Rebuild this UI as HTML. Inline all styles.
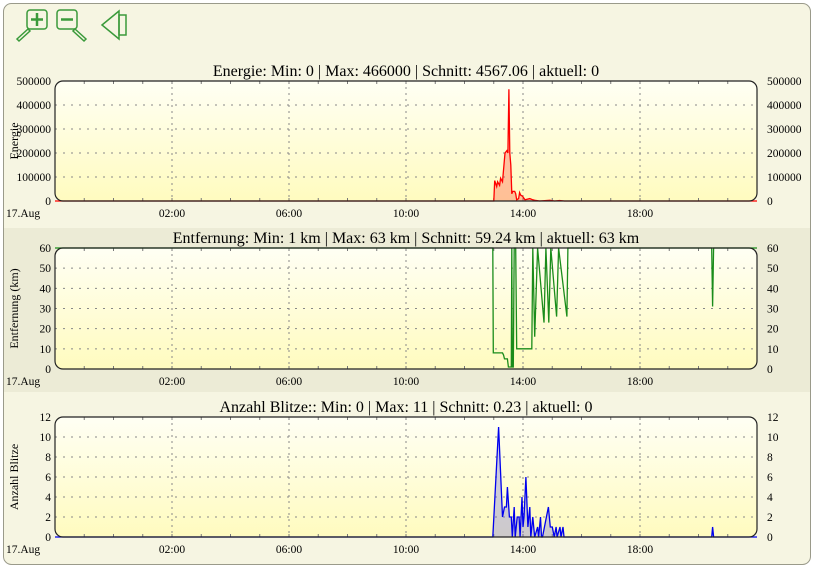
<!DOCTYPE html>
<html><head><meta charset="utf-8"><style>
body{margin:0;width:814px;height:568px;background:#fff;font-family:"Liberation Serif",serif;}
svg text{font-family:"Liberation Serif",serif;}
</style></head><body>
<svg id="s" width="814" height="568" xmlns="http://www.w3.org/2000/svg">
<defs>
<linearGradient id="bg" x1="0" y1="0" x2="0" y2="1"><stop offset="0" stop-color="#fffff4"/><stop offset="1" stop-color="#fffbbf"/></linearGradient>
</defs>
<rect x="3.5" y="3.5" width="807" height="561" rx="8" fill="#f6f5e2" stroke="#9a9a8a"/>
<rect x="4" y="228" width="806" height="164" fill="#ecebd6"/>
<g fill="none" stroke="#3a9a3a" stroke-width="1.5">
<rect x="27" y="10" width="20" height="19" rx="3"/><path d="M37 13v13M31 19.5h12" stroke-width="2.5"/><path d="M28 29l-11 10 2 2 11-10z"/></g>
<g fill="none" stroke="#3a9a3a" stroke-width="1.5">
<rect x="57" y="10" width="20" height="19" rx="3"/><path d="M61 19.5h12" stroke-width="2.5"/><path d="M75 29l11 10-2 2-11-10z"/></g>
<g fill="none" stroke="#3a9a3a" stroke-width="1.5">
<path d="M102 25l17-14v28z"/><rect x="119" y="15" width="7" height="20"/></g>
<g id="charts"></g>
</svg>
<script>
const energyTimes=[-120,780,782,786,788,792,794,798,803,807,809,811,813,815,817,819,823,825,827,831,833,835,839,844,854,860,864,874,895,905,915,925,1320];
const energyValues=[0,0,85000,60000,80000,65000,95000,80000,200000,210000,200000,466000,200000,150000,30000,40000,40000,30000,5000,10000,35000,25000,20000,5000,10000,5000,3000,0,3000,0,2000,0,0];
const distTimes=[-120,778,779,798,800,802,808,810,816,817,818,820,822,825,827,858,860,864,870,883,887,893,897,909,913,930,932,1227,1229,1231,1320];
const distValues=[63,63,8,8,7,5,5,1,1,63,1,1,63,63,10,10,63,16,63,23,63,23,63,26,63,26,63,63,31,63,63];
const countTimes=[-120,778,790,798,802,806,808,812,816,818,822,824,828,832,834,838,840,842,846,850,854,856,860,862,864,870,872,876,878,880,888,892,896,900,904,908,910,916,918,922,924,1227,1229,1231,1320];
const countValues=[0,0,11,2,3,3,5,2,2,0,3,0,2,2,0,4,1,2,6,1,3,0,2,1,0,1,0,2,0,0,2,3,1,1,0,1,0,1,0,1,0,0,1,0,0];
const xTickMinutes=[120,360,600,840,1080];
const xTickLabels=["02:00","06:00","10:00","14:00","18:00"];
const energyTicks=[0,100000,200000,300000,400000,500000];
const distTicks=[0,10,20,30,40,50,60];
const countTicks=[0,2,4,6,8,10,12];

const NS="http://www.w3.org/2000/svg";
const X0=55,X1=757;
function xs(m){return 113.5+m/60*29.25;}
function el(tag,attrs,parent,txt){const e=document.createElementNS(NS,tag);for(const k in attrs)e.setAttribute(k,attrs[k]);if(txt!==undefined)e.textContent=txt;parent.appendChild(e);return e;}
const root=document.getElementById('charts');
function chart(name,top,bottom,max,ticks,times,vals,title,ytitle,color,fill){
  const g=el('g',{},root);
  
  
  const ys=v=>bottom-Math.min(v,max)/max*(bottom-top);
  const bgr=el('rect',{x:X0,y:top,width:X1-X0,height:bottom-top,rx:8,fill:'url(#bg)'},g);
  
  
  const t=el('text',{x:406,y:top-5,'text-anchor':'middle','font-size':16},g,title);
  
  
  const yt=el('text',{transform:`translate(18,${(top+bottom)/2}) rotate(-90)`,'text-anchor':'middle','font-size':12},g,ytitle);
  
  
  ticks.forEach(v=>{
    const y=ys(v);
    if(v>0&&v<max){const l=el('line',{x1:X0,x2:X1,y1:y,y2:y,stroke:'#888','stroke-dasharray':'2,6'},g);
      
      }
    const a=el('text',{x:51,y:y+4,'text-anchor':'end','font-size':11.5},g,String(v));
    
    
    const b=el('text',{x:767,y:y+4,'font-size':11.5},g,String(v));
    
    
  });
  for(let h=-1;h<=21;h++){const x=xs(h*60);
    el('line',{x1:x,x2:x,y1:top,y2:top+3,stroke:'#777'},g);el('line',{x1:x,x2:x,y1:bottom-3,y2:bottom,stroke:'#777'},g);}
  xTickMinutes.forEach((m,i)=>{const x=xs(m);
    const l=el('line',{x1:x,x2:x,y1:top,y2:bottom,stroke:'#888','stroke-dasharray':'2,4'},g);
    
    
    const a=el('text',{x:x,y:bottom+16,'text-anchor':'middle','font-size':11.5},g,xTickLabels[i]);
    
    });
  const d0=el('text',{x:6,y:bottom+16,'font-size':11.5},g,'17.Aug');
  
  
  let d='';times.forEach((m,i)=>{d+=(i?'L':'M')+Math.max(X0,Math.min(X1,xs(m))).toFixed(1)+' '+ys(vals[i]).toFixed(1);});
  if(fill!=='none'){
    const ar=el('path',{d:d+`L${X1} ${bottom}L${X0} ${bottom}Z`,fill:fill},g);
    
    
  }
  const ln=el('path',{d:d,fill:'none',stroke:color,'stroke-width':1.3},g);
  
  
  const br=el('rect',{x:X0,y:top,width:X1-X0,height:bottom-top,rx:8,fill:'none',stroke:'#222','stroke-width':1.2},g);
  
  
}
chart('energy',81,201,500000,energyTicks,energyTimes,energyValues,'Energie: Min: 0 | Max: 466000 | Schnitt: 4567.06 | aktuell: 0','Energie','#ff0000','rgba(255,40,40,0.28)');
chart('distance',248,369,60,distTicks,distTimes,distValues,'Entfernung: Min: 1 km | Max: 63 km | Schnitt: 59.24 km | aktuell: 63 km','Entfernung (km)','#1a8c1a','none');
chart('count',417,537,12,countTicks,countTimes,countValues,'Anzahl Blitze:: Min: 0 | Max: 11 | Schnitt: 0.23 | aktuell: 0','Anzahl Blitze','#0000ee','rgba(90,90,230,0.3)');
</script>
</body></html>
